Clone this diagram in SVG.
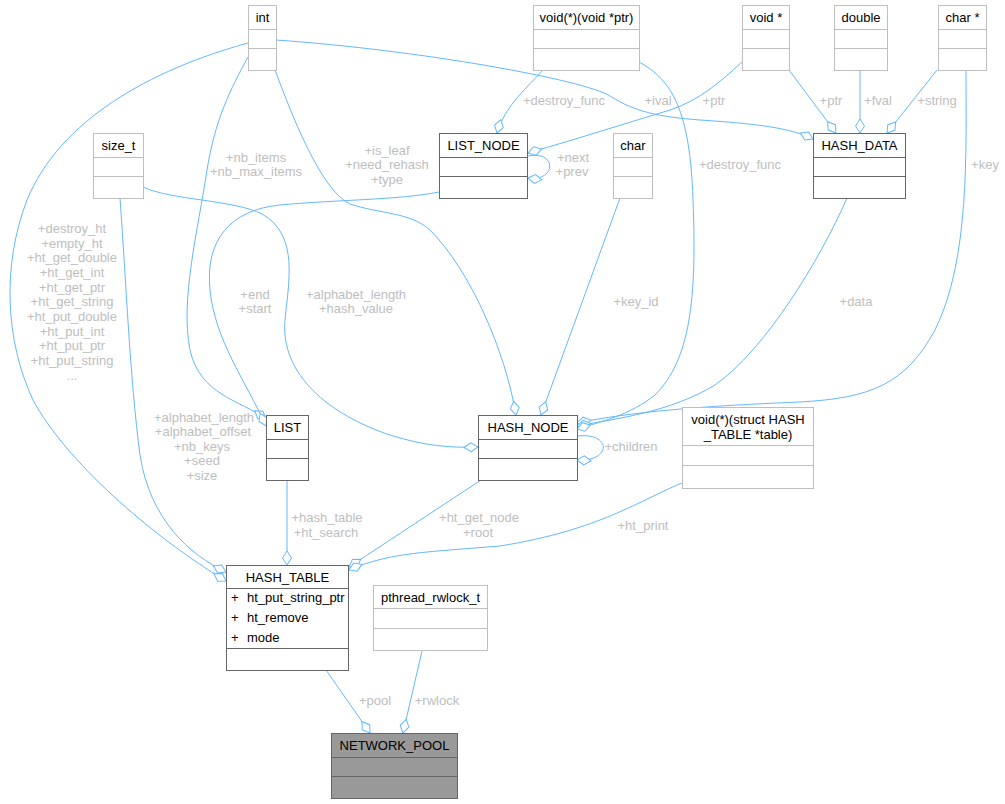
<svg xmlns="http://www.w3.org/2000/svg" width="1005" height="804" viewBox="0 0 1005 804">
<style>
text{font-family:"Liberation Sans",Arial,Helvetica,sans-serif;font-size:13px;}
.t{text-anchor:middle;fill:#000;}
.a{fill:#000;}
.l{text-anchor:middle;fill:#bebebe;}
.e{fill:none;stroke:#63b8ff;stroke-width:1;marker-end:url(#d);}
.lt rect,.lt line{fill:#fff;stroke:#bfbfbf;stroke-width:1;}
.dk rect,.dk line{fill:#fff;stroke:#666;stroke-width:1;}
.np rect,.np line{fill:#999;stroke:#666;stroke-width:1;}
</style>
<defs>
<marker id="d" markerWidth="16" markerHeight="12" refX="14" refY="0" orient="auto" markerUnits="userSpaceOnUse" overflow="visible">
<path d="M0,0 L7,-4.5 L14,0 L7,4.5 Z" fill="#fff" stroke="#63b8ff" stroke-width="1"/>
</marker>
</defs>
<rect x="0" y="0" width="1005" height="804" fill="#fff"/>
<g id="connectors">
<path class="e" d="M248,43 C150,70 60,120 27,200 C2,265 5,340 33,400 C65,460 150,535 226,581"/>
<path class="e" d="M120,198 C126,280 130,380 140,455 C150,520 190,555 226,572"/>
<path class="e" d="M248,57 C230,90 215,120 207,170 C198,230 180,300 190,350 C200,395 240,400 266,419"/>
<path class="e" d="M439,192 C400,200 330,200 280,205 C230,210 205,240 210,290 C215,340 245,380 266,426"/>
<path class="e" d="M143,187 C170,200 235,200 262,214 C300,235 288,285 285,320 C280,375 330,415 390,435 C425,446 450,448 478,447"/>
<path class="e" d="M275,70 C290,110 320,190 350,204 C380,214 410,212 430,230 C470,270 505,350 516,415"/>
<path class="e" d="M276,40 C420,50 585,80 610,96 C635,112 660,117 700,120 C760,124 790,128 813,139"/>
<path class="e" d="M742,62 C720,82 700,100 670,110 C630,122 580,138 528,153"/>
<path class="e" d="M789,70 L836,133"/>
<path class="e" d="M860,70 L860,133"/>
<path class="e" d="M937,70 L887,133"/>
<path class="e" d="M966,70 C966,150 970,260 935,330 C905,385 870,398 800,402 C700,406 630,412 577,423"/>
<path class="e" d="M847,198 C820,260 765,350 715,385 C670,412 620,418 577,426"/>
<path class="e" d="M639,62 C672,80 690,110 693,200 C697,300 690,360 655,395 C630,415 600,422 577,429"/>
<path class="e" d="M543,70 C530,85 505,105 497,133"/>
<path class="e" d="M528,156 C557,150 557,182 528,178"/>
<path class="e" d="M620,198 L541,415"/>
<path class="e" d="M577,436 C612,432 612,462 577,460"/>
<path class="e" d="M287,480 L287,565"/>
<path class="e" d="M481,480 L349,567"/>
<path class="e" d="M682,483 C640,500 600,530 500,546 C430,552 390,552 349,570"/>
<path class="e" d="M326,670 L370,733"/>
<path class="e" d="M422,651 L403,733"/>
<g id="edge-labels">
<text class="l" x="72" y="233">+destroy_ht</text>
<text class="l" x="72" y="248">+empty_ht</text>
<text class="l" x="72" y="262">+ht_get_double</text>
<text class="l" x="72" y="277">+ht_get_int</text>
<text class="l" x="72" y="292">+ht_get_ptr</text>
<text class="l" x="72" y="306">+ht_get_string</text>
<text class="l" x="72" y="321">+ht_put_double</text>
<text class="l" x="72" y="336">+ht_put_int</text>
<text class="l" x="72" y="350">+ht_put_ptr</text>
<text class="l" x="72" y="365">+ht_put_string</text>
<text class="l" x="72" y="380">...</text>
<text class="l" x="256" y="162">+nb_items</text>
<text class="l" x="256" y="176">+nb_max_items</text>
<text class="l" x="387" y="155">+is_leaf</text>
<text class="l" x="387" y="169">+need_rehash</text>
<text class="l" x="387" y="184">+type</text>
<text class="l" x="255" y="299">+end</text>
<text class="l" x="255" y="313">+start</text>
<text class="l" x="356" y="299">+alphabet_length</text>
<text class="l" x="356" y="313">+hash_value</text>
<text class="l" x="564" y="105">+destroy_func</text>
<text class="l" x="658" y="105">+ival</text>
<text class="l" x="714" y="105">+ptr</text>
<text class="l" x="831" y="105">+ptr</text>
<text class="l" x="878" y="105">+fval</text>
<text class="l" x="937" y="105">+string</text>
<text class="l" x="573" y="162">+next</text>
<text class="l" x="572" y="176">+prev</text>
<text class="l" x="740" y="169">+destroy_func</text>
<text class="l" x="985" y="169">+key</text>
<text class="l" x="636" y="306">+key_id</text>
<text class="l" x="856" y="306">+data</text>
<text class="l" x="631" y="451">+children</text>
<text class="l" x="204" y="422">+alphabet_length</text>
<text class="l" x="203" y="436">+alphabet_offset</text>
<text class="l" x="202" y="451">+nb_keys</text>
<text class="l" x="202" y="465">+seed</text>
<text class="l" x="202" y="480">+size</text>
<text class="l" x="327" y="522">+hash_table</text>
<text class="l" x="326" y="537">+ht_search</text>
<text class="l" x="479" y="522">+ht_get_node</text>
<text class="l" x="478" y="537">+root</text>
<text class="l" x="643" y="530">+ht_print</text>
<text class="l" x="375" y="705">+pool</text>
<text class="l" x="437" y="705">+rwlock</text>
</g>
</g>
<g id="int" class="lt">
<rect x="248.5" y="5.5" width="28" height="65"/>
<line x1="248.5" y1="29.5" x2="276.5" y2="29.5"/>
<line x1="248.5" y1="48.5" x2="276.5" y2="48.5"/>
<text class="t" x="262.5" y="22">int</text>
</g>
<g id="void_func_ptr" class="lt">
<rect x="533.5" y="5.5" width="106" height="65"/>
<line x1="533.5" y1="29.5" x2="639.5" y2="29.5"/>
<line x1="533.5" y1="48.5" x2="639.5" y2="48.5"/>
<text class="t" x="586.5" y="22">void(*)(void *ptr)</text>
</g>
<g id="void_ptr" class="lt">
<rect x="742.5" y="5.5" width="47" height="65"/>
<line x1="742.5" y1="29.5" x2="789.5" y2="29.5"/>
<line x1="742.5" y1="48.5" x2="789.5" y2="48.5"/>
<text class="t" x="766" y="22">void *</text>
</g>
<g id="double" class="lt">
<rect x="834.5" y="5.5" width="53" height="65"/>
<line x1="834.5" y1="29.5" x2="887.5" y2="29.5"/>
<line x1="834.5" y1="48.5" x2="887.5" y2="48.5"/>
<text class="t" x="861" y="22">double</text>
</g>
<g id="char_ptr" class="lt">
<rect x="938.5" y="5.5" width="48" height="65"/>
<line x1="938.5" y1="29.5" x2="986.5" y2="29.5"/>
<line x1="938.5" y1="48.5" x2="986.5" y2="48.5"/>
<text class="t" x="962.5" y="22">char *</text>
</g>
<g id="size_t" class="lt">
<rect x="93.5" y="133.5" width="50" height="65"/>
<line x1="93.5" y1="157.5" x2="143.5" y2="157.5"/>
<line x1="93.5" y1="176.5" x2="143.5" y2="176.5"/>
<text class="t" x="118.5" y="150">size_t</text>
</g>
<g id="LIST_NODE" class="dk">
<rect x="439.5" y="133.5" width="88" height="65"/>
<line x1="439.5" y1="157.5" x2="527.5" y2="157.5"/>
<line x1="439.5" y1="176.5" x2="527.5" y2="176.5"/>
<text class="t" x="483.5" y="150">LIST_NODE</text>
</g>
<g id="char" class="lt">
<rect x="613.5" y="133.5" width="39" height="65"/>
<line x1="613.5" y1="157.5" x2="652.5" y2="157.5"/>
<line x1="613.5" y1="176.5" x2="652.5" y2="176.5"/>
<text class="t" x="633" y="150">char</text>
</g>
<g id="HASH_DATA" class="dk">
<rect x="813.5" y="133.5" width="92" height="65"/>
<line x1="813.5" y1="157.5" x2="905.5" y2="157.5"/>
<line x1="813.5" y1="176.5" x2="905.5" y2="176.5"/>
<text class="t" x="859.5" y="150">HASH_DATA</text>
</g>
<g id="LIST" class="dk">
<rect x="266.5" y="415.5" width="42" height="65"/>
<line x1="266.5" y1="439.5" x2="308.5" y2="439.5"/>
<line x1="266.5" y1="458.5" x2="308.5" y2="458.5"/>
<text class="t" x="287.5" y="432">LIST</text>
</g>
<g id="HASH_NODE" class="dk">
<rect x="478.5" y="415.5" width="99" height="65"/>
<line x1="478.5" y1="439.5" x2="577.5" y2="439.5"/>
<line x1="478.5" y1="458.5" x2="577.5" y2="458.5"/>
<text class="t" x="528" y="432">HASH_NODE</text>
</g>
<g id="void_func_table" class="lt">
<rect x="682.5" y="407.5" width="131" height="81"/>
<line x1="682.5" y1="445.5" x2="813.5" y2="445.5"/>
<line x1="682.5" y1="465.5" x2="813.5" y2="465.5"/>
<text class="t" x="748" y="424">void(*)(struct HASH</text>
<text class="t" x="748" y="439">_TABLE *table)</text>
</g>
<g id="HASH_TABLE" class="dk">
<rect x="226.5" y="565.5" width="122" height="105"/>
<line x1="226.5" y1="588.5" x2="348.5" y2="588.5"/>
<line x1="226.5" y1="648.5" x2="348.5" y2="648.5"/>
<text class="t" x="287.5" y="582">HASH_TABLE</text>
<text class="a" x="231" y="602">+</text>
<text class="a" x="247" y="602">ht_put_string_ptr</text>
<text class="a" x="231" y="622">+</text>
<text class="a" x="247" y="622">ht_remove</text>
<text class="a" x="231" y="642">+</text>
<text class="a" x="247" y="642">mode</text>
</g>
<g id="pthread_rwlock_t" class="lt">
<rect x="373.5" y="585.5" width="114" height="65"/>
<line x1="373.5" y1="608.5" x2="487.5" y2="608.5"/>
<line x1="373.5" y1="628.5" x2="487.5" y2="628.5"/>
<text class="t" x="430.5" y="602">pthread_rwlock_t</text>
</g>
<g id="NETWORK_POOL" class="np">
<rect x="331.5" y="733.5" width="126" height="65"/>
<line x1="331.5" y1="757.5" x2="457.5" y2="757.5"/>
<line x1="331.5" y1="776.5" x2="457.5" y2="776.5"/>
<text class="t" x="394.5" y="750">NETWORK_POOL</text>
</g>
</svg>
